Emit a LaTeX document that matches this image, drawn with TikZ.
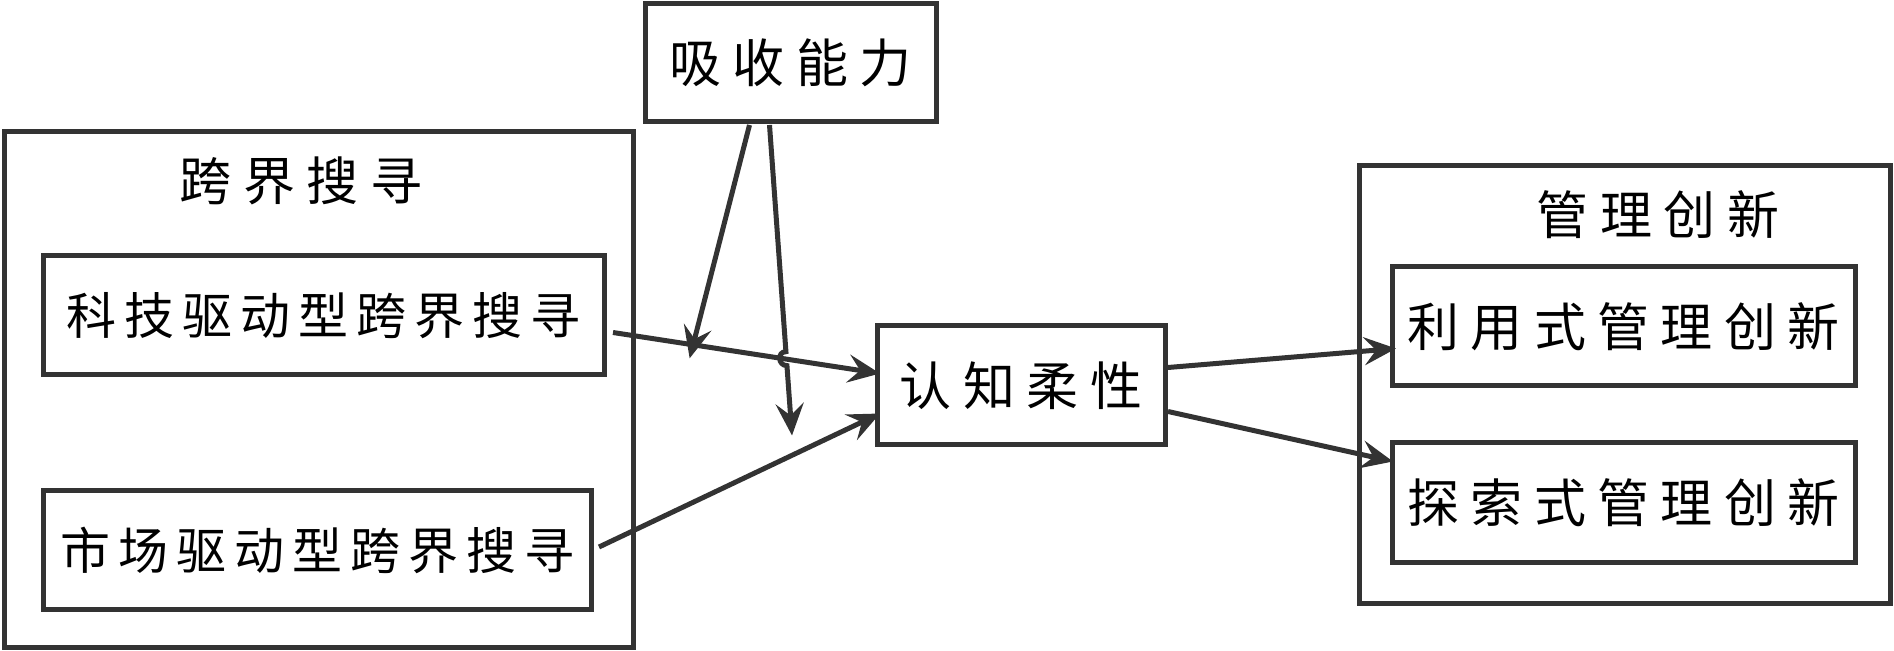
\documentclass[tikz,border=0pt]{standalone}
\usepackage{fontspec}
\newfontfamily\cjk[LetterSpace=16]{Noto Sans CJK SC}
\newfontfamily\cjkwide[LetterSpace=22]{Noto Sans CJK SC}
\usetikzlibrary{positioning, calc, arrows.meta}
\definecolor{linegray}{HTML}{333333}

\begin{document}
\begin{tikzpicture}[x=0.5pt, y=-0.5pt, line width=2.5pt,
	box/.style={draw=linegray, rectangle, inner sep=0pt, outer sep=0pt},
	txt/.style={font=\fontsize{25}{30}\selectfont\cjk},
	wtxt/.style={font=\fontsize{26}{31}\selectfont\cjkwide},
	arr/.style={draw=linegray, -{Stealth[length=16pt, width=14pt, inset=6pt]}}]
	\useasboundingbox (0,0) rectangle (1894,651);
	% groups
	\node[box, minimum width=314.5pt, minimum height=257.5pt] (search) at (318.5,389.5) {};
	\node[wtxt] (searchtitle) at (301,181) {跨界搜寻};
	\node[box, minimum width=265.5pt, minimum height=218.5pt] (innov) at (1624.5,384.5) {};
	\node[wtxt] (innovtitle) at (1658,215) {管理创新};
	% boxes
	\node[box, txt, minimum width=280.5pt, minimum height=59.5pt] (tech) at (323.5,315.5) {科技驱动型跨界搜寻};
	\node[box, txt, minimum width=274pt, minimum height=59pt] (market) at (317,550) {市场驱动型跨界搜寻};
	\node[box, wtxt, minimum width=145.5pt, minimum height=59pt] (absorb) at (790.5,63) {吸收能力};
	\node[box, wtxt, minimum width=144pt, minimum height=59.5pt] (cog) at (1021,385.5) {认知柔性};
	\node[box, wtxt, minimum width=231.5pt, minimum height=59.5pt] (exploit) at (1623.5,326.5) {利用式管理创新};
	\node[box, wtxt, minimum width=231.5pt, minimum height=59.5pt, below=28.5pt of exploit] (explore) {探索式管理创新};
	% arrows
	\draw[arr] ($(tech.east)+(9,17)$) -- ($(cog.west)+(3,-12)$) coordinate[pos=0.3] (m1);
	\draw[arr] ($(market.east)+(8,-3)$) -- ($(cog.west)+(3,28)$);
	\draw[arr, shorten >=-7pt] ($(absorb.south)+(-41,3)$) -- (m1);
	\coordinate (a2) at ($(absorb.south)+(-21,3)$);
	\coordinate (e2) at ($(cog.west)+(-85,50)$);
	\path (a2) -- (e2) coordinate[pos=0.73] (h1) coordinate[pos=0.775] (h2);
	\draw[arr] (a2) -- (h1) .. controls ($(h1)+(-9,0)$) and ($(h2)+(-9,0)$) .. (h2) -- (e2);
	\draw[arr] ($(cog.east)+(3,-18)$) -- ($(exploit.west)+(4,22)$);
	\draw[arr] ($(cog.east)+(3,26)$) -- ($(explore.west)+(1,-41)$);
\end{tikzpicture}
\end{document}
